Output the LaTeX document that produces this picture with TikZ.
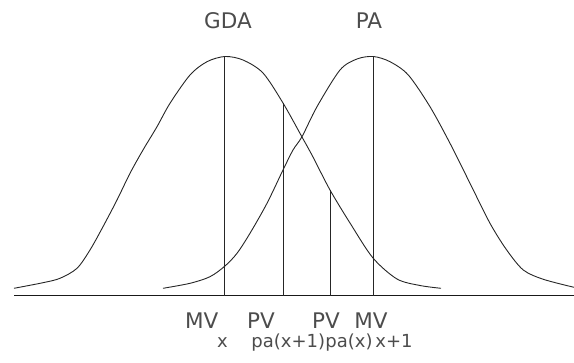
\documentclass[tikz,border=0pt]{standalone}
\usepackage{fontspec}
\setmainfont{DejaVu Sans}
\begin{document}
\begin{tikzpicture}[x=1pt,y=-1pt,
  curve/.style={line width=0.9pt, black!85},
  vline/.style={line width=1.2pt, black!85},
  axis/.style={line width=1.4pt, black!90},
  lab/.style={anchor=base, inner sep=0pt, font=\fontsize{21.5}{25}\selectfont, text=black!70},
  sublab/.style={anchor=base, inner sep=0pt, font=\fontsize{18}{22}\selectfont, text=black!70}]
\useasboundingbox (0,0) rectangle (574,363);
% GDA curve
\draw[curve] plot[smooth, tension=0.5] coordinates {(14,288.3) (43,282.7) (60,278.3) (77,268.3) (90,250) (103,226.7) (117,200) (130,173.3) (143,150) (157,126.7) (170,103.3) (190,75) (207,61.7) (225,56.5) (243,60) (263,73) (283,103) (302,137) (313,157) (330,190) (350,223) (373,258) (397,279) (420,285.5) (441,288.3)};
% PA curve
\draw[curve] plot[smooth, tension=0.5] coordinates {(163,288.3) (190,283.3) (210,276.7) (225,266) (237,253.3) (250,233.3) (267,203.3) (283,170) (293,150) (302,136.7) (317,106.7) (340,70) (357,59) (373.3,56.5) (390,61.7) (408.3,75) (430,106.7) (450,143.3) (470,183.3) (490,223.3) (506.7,250) (523.3,270) (543.3,279.3) (574,287.3)};
% axis
\coordinate (axL) at (14,295.7);
\coordinate (axR) at (574,295.7);
\draw[axis] (axL) -- (axR);
% vertical lines
\coordinate (b1) at (224.5,295.7); \coordinate (t1) at (224.5,56);
\coordinate (b2) at (283.3,295.7); \coordinate (t2) at (283.3,103);
\coordinate (b3) at (330.5,295.7); \coordinate (t3) at (330.5,190.5);
\coordinate (b4) at (373.3,295.7); \coordinate (t4) at (373.3,56);
\draw[vline] (b1) -- (t1);
\draw[vline] (b2) -- (t2);
\draw[vline] (b3) -- (t3);
\draw[vline] (b4) -- (t4);
% labels
\node[lab] (gda) at (228,28.3) {GDA};
\node[lab] (pa) at (369,28.3) {PA};
\node[lab] (mv1) at (201.7,328.3) {MV};
\node[lab] (pv1) at (261,328.3) {PV};
\node[lab] (pv2) at (326,328.3) {PV};
\node[lab] (mv2) at (371,328.3) {MV};
\node[sublab] (s1) at (222.5,348) {x};
\node[sublab] (s2) at (288.3,348) {pa(x+1)};
\node[sublab] (s3) at (349,348) {pa(x)};
\node[sublab] (s4) at (394,348) {x+1};
\end{tikzpicture}
\end{document}
